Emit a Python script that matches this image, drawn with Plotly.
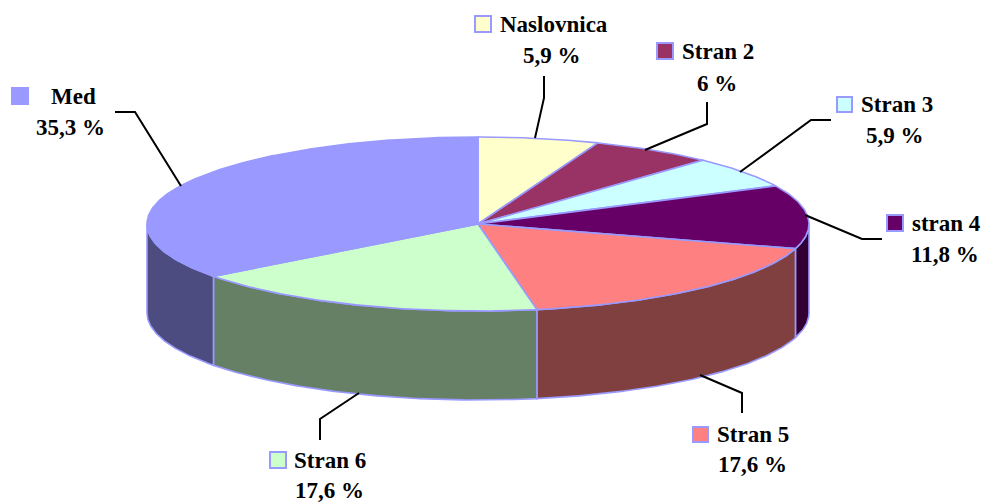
import numpy as np
import plotly.graph_objects as go

# ---- data ----
labels = ["Naslovnica", "Stran 2", "Stran 3", "stran 4", "Stran 5", "Stran 6", "Med"]
values = [5.9, 6, 5.9, 11.8, 17.6, 17.6, 35.3]
top_colors = ["#FFFFCC", "#993366", "#CCFFFF", "#660066", "#FF8080", "#CCFFCC", "#9999FF"]
side_colors = ["#808066", "#4D1A33", "#668080", "#330033", "#804040", "#668066", "#4C4C80"]

# ---- geometry / styling ----
CX, CY, RX, RY, DEPTH = 478, 224, 331, 87, 89
EDGE = "#9999FF"
FONT = dict(family="'Liberation Serif', 'Times New Roman', 'DejaVu Serif', serif", size=23, color="black")

# label layout: key square, name anchor, percent anchor, leader polyline
label_layout = [
    dict(key=(475, 16, 491, 32), name=(498, 24), pct=(552, 55), lead=[(544, 76), (544, 98), (535, 138)]),
    dict(key=(657, 43, 673, 59), name=(680, 51), pct=(717, 83), lead=[(707, 102), (707, 124), (645, 150)]),
    dict(key=(837, 97, 852, 112), name=(859, 104), pct=(895, 135), lead=[(831, 120), (811, 120), (740, 172)]),
    dict(key=(887, 215, 903, 231), name=(910, 223), pct=(945, 254), lead=[(805, 215), (862, 239), (882, 239)]),
    dict(key=(693, 427, 708, 442), name=(715, 434), pct=(752, 464), lead=[(700, 375), (742, 393), (742, 413)]),
    dict(key=(270, 452, 286, 468), name=(292, 460), pct=(329, 490), lead=[(359, 393), (320, 419), (320, 440)]),
    dict(key=(12, 88, 28, 104), name=(49, 96), pct=(70, 127), lead=[(115, 112), (135, 112), (181, 186)]),
]


def arc(t0, t1, dy=0.0, n=None):
    if n is None:
        n = max(int(abs(t1 - t0) * 2) + 2, 3)
    t = np.radians(np.linspace(t0, t1, n))
    return CX + RX * np.sin(t), CY - RY * np.cos(t) + dy


total = sum(values)
bounds = np.concatenate([[0.0], np.cumsum(values) / total * 360.0])

fig = go.Figure()

# side walls (visible front half: 90..270 deg clockwise from top)
for i in range(len(values)):
    t0, t1 = max(bounds[i], 90.0), min(bounds[i + 1], 270.0)
    if t1 <= t0:
        continue
    xt, yt = arc(t0, t1)
    xb, yb = arc(t1, t0, dy=DEPTH)
    xs = np.concatenate([xt, xb, xt[:1]])
    ys = np.concatenate([yt, yb, yt[:1]])
    fig.add_trace(go.Scatter(x=xs, y=ys, mode="lines", fill="toself",
                             fillcolor=side_colors[i], line=dict(color=EDGE, width=1.6),
                             hoverinfo="skip", showlegend=False))

# top slices
for i in range(len(values)):
    xa, ya = arc(bounds[i], bounds[i + 1])
    xs = np.concatenate([[CX], xa, [CX]])
    ys = np.concatenate([[CY], ya, [CY]])
    fig.add_trace(go.Scatter(x=xs, y=ys, mode="lines", fill="toself",
                             fillcolor=top_colors[i], line=dict(color=EDGE, width=1.6),
                             hoverinfo="skip", showlegend=False))

shapes = []
annotations = []
for i, lab in enumerate(labels):
    L = label_layout[i]
    x0, y0, x1, y1 = L["key"]
    shapes.append(dict(type="rect", xref="x", yref="y", x0=x0, y0=y0, x1=x1, y1=y1,
                       fillcolor=top_colors[i], line=dict(color=EDGE, width=2)))
    path = "M " + " L ".join(f"{px},{py}" for px, py in L["lead"])
    shapes.append(dict(type="path", xref="x", yref="y", path=path,
                       line=dict(color="black", width=2)))
    pct_txt = f"{values[i]:g}".replace(".", ",") + " %"
    annotations.append(dict(x=L["name"][0], y=L["name"][1], xref="x", yref="y",
                            text=f"<b>{lab}</b>", showarrow=False, xanchor="left",
                            yanchor="middle", font=FONT))
    annotations.append(dict(x=L["pct"][0], y=L["pct"][1], xref="x", yref="y",
                            text=f"<b>{pct_txt}</b>", showarrow=False, xanchor="center",
                            yanchor="middle", font=FONT))

fig.update_layout(
    width=986, height=503,
    margin=dict(l=0, r=0, t=0, b=0),
    paper_bgcolor="white", plot_bgcolor="white",
    xaxis=dict(range=[0, 986], visible=False, fixedrange=True),
    yaxis=dict(range=[503, 0], visible=False, fixedrange=True),
    shapes=shapes, annotations=annotations,
    showlegend=False,
)

fig.write_html("out.html", config={"displayModeBar": False},
               post_script="document.body.style.margin='0';document.body.style.overflow='hidden';")
